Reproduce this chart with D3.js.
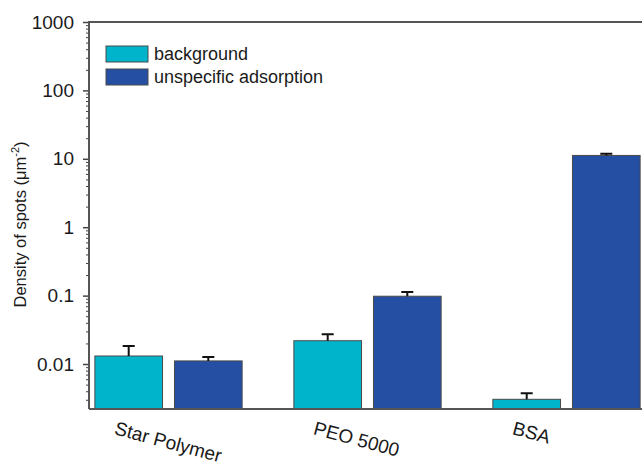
<!DOCTYPE html>
<html>
<head>
<meta charset="utf-8">
<script src="https://cdn.jsdelivr.net/npm/d3@7"></script>
<style>
  body { margin: 0; background: #fff; }
  text { font-family: "Liberation Sans", Arial, sans-serif; fill: #1a1a1a; }
</style>
</head>
<body>
<div id="wrapper"></div>
<script>
const categories = ["Star Polymer", "PEO 5000", "BSA"]
const seriesNames = ["background", "unspecific adsorption"]
const background = [0.0131, 0.0219, 0.00305]
const backgroundErr = [0.0052, 0.0053, 0.00068]
const unspecific = [0.0111, 0.098, 11.2]
const unspecificErr = [0.0016, 0.015, 0.7]
const yTicks = [0.01, 0.1, 1, 10, 100, 1000]
const yTickLabels = ["0.01", "0.1", "1", "10", "100", "1000"]
const colors = ["#00b4cb", "#244fa3"]

const dimensions = {
  width: 642,
  height: 468,
  axisX: 89,
  top: 22,
  bottom: 409
}

const svg = d3.select('#wrapper')
  .append('svg')
  .attr('width', dimensions.width)
  .attr('height', dimensions.height)

const xScale = d3.scaleBand()
  .domain(categories)
  .range([69, 666])
  .paddingInner(0.26)
  .paddingOuter(0.13)

const innerScale = d3.scaleBand()
  .domain(seriesNames)
  .range([0, xScale.bandwidth()])
  .paddingInner(0.15)

const yScale = d3.scaleLog()
  .domain([0.0022, 1000])
  .range([dimensions.bottom, dimensions.top])

const rows = []
categories.forEach((c, i) => {
  rows.push({ cat: c, series: seriesNames[0], value: background[i], err: backgroundErr[i], color: colors[0] })
  rows.push({ cat: c, series: seriesNames[1], value: unspecific[i], err: unspecificErr[i], color: colors[1] })
})

const bars = svg.append('g')
bars.selectAll('rect')
  .data(rows)
  .enter()
  .append('rect')
  .attr('x', d => xScale(d.cat) + innerScale(d.series))
  .attr('y', d => yScale(d.value))
  .attr('width', innerScale.bandwidth())
  .attr('height', d => dimensions.bottom - yScale(d.value))
  .attr('fill', d => d.color)
  .attr('stroke', '#4a4a4a')
  .attr('stroke-width', 1)

// error bars, upper only
const errs = svg.append('g')
  .attr('stroke', '#111')
  .attr('stroke-width', 2)
errs.selectAll('path')
  .data(rows)
  .enter()
  .append('path')
  .attr('fill', 'none')
  .attr('d', d => {
    const cx = xScale(d.cat) + innerScale(d.series) + innerScale.bandwidth() / 2
    const y0 = yScale(d.value)
    const y1 = yScale(d.value + d.err)
    return `M${cx},${y0}V${y1}M${cx - 6},${y1}H${cx + 6}`
  })

// y axis with minor ticks
const minorTicks = yScale.ticks().filter(t => !yTicks.includes(t))
const yAxisMinor = d3.axisLeft(yScale)
  .tickValues(minorTicks)
  .tickSize(3)
  .tickFormat('')
svg.append('g')
  .attr('transform', `translate(${dimensions.axisX},0)`)
  .call(yAxisMinor)
  .call(g => g.select('.domain').remove())
  .call(g => g.selectAll('line').attr('stroke', '#444'))

const yAxis = d3.axisLeft(yScale)
  .tickValues(yTicks)
  .tickSize(6)
  .tickPadding(9)
  .tickFormat((d, i) => yTickLabels[i])
svg.append('g')
  .attr('transform', `translate(${dimensions.axisX},0)`)
  .call(yAxis)
  .call(g => g.select('.domain').remove())
  .call(g => g.selectAll('line').attr('stroke', '#444').attr('stroke-width', 1.5))
  .call(g => g.selectAll('text').attr('font-size', 19).attr('fill', '#1a1a1a').attr('font-family', '"Liberation Sans", Arial, sans-serif'))

// frame lines
svg.append('path')
  .attr('d', `M${dimensions.axisX},${dimensions.bottom}V${dimensions.top}H${dimensions.width}M${dimensions.axisX},${dimensions.bottom}H${dimensions.width}`)
  .attr('fill', 'none')
  .attr('stroke', '#555')
  .attr('stroke-width', 2)

// x labels, rotated
svg.append('g').selectAll('text')
  .data(categories)
  .enter()
  .append('text')
  .attr('transform', d => `translate(${xScale(d) + xScale.bandwidth() / 2 - 55},${dimensions.bottom + 25}) rotate(15)`)
  .attr('font-size', 19)
  .text(d => d)

// y label
svg.append('text')
  .attr('transform', `translate(26,${(dimensions.top + dimensions.bottom) / 2 + 9}) rotate(-90)`)
  .attr('text-anchor', 'middle')
  .attr('font-size', 16.5)
  .call(t => {
    t.append('tspan').text('Density of spots (\u03bcm')
    t.append('tspan').attr('font-size', 11).attr('dy', -7).text('-2')
    t.append('tspan').attr('dy', 7).text(')')
  })

// legend
const legend = svg.append('g').attr('transform', 'translate(106,46)')
const items = legend.selectAll('g')
  .data(seriesNames)
  .enter()
  .append('g')
  .attr('transform', (d, i) => `translate(0,${i * 23})`)
items.append('rect')
  .attr('width', 42)
  .attr('height', 16)
  .attr('fill', (d, i) => colors[i])
  .attr('stroke', '#4a4a4a')
items.append('text')
  .attr('x', 48)
  .attr('y', 14)
  .attr('font-size', 18)
  .text(d => d)
</script>
</body>
</html>
